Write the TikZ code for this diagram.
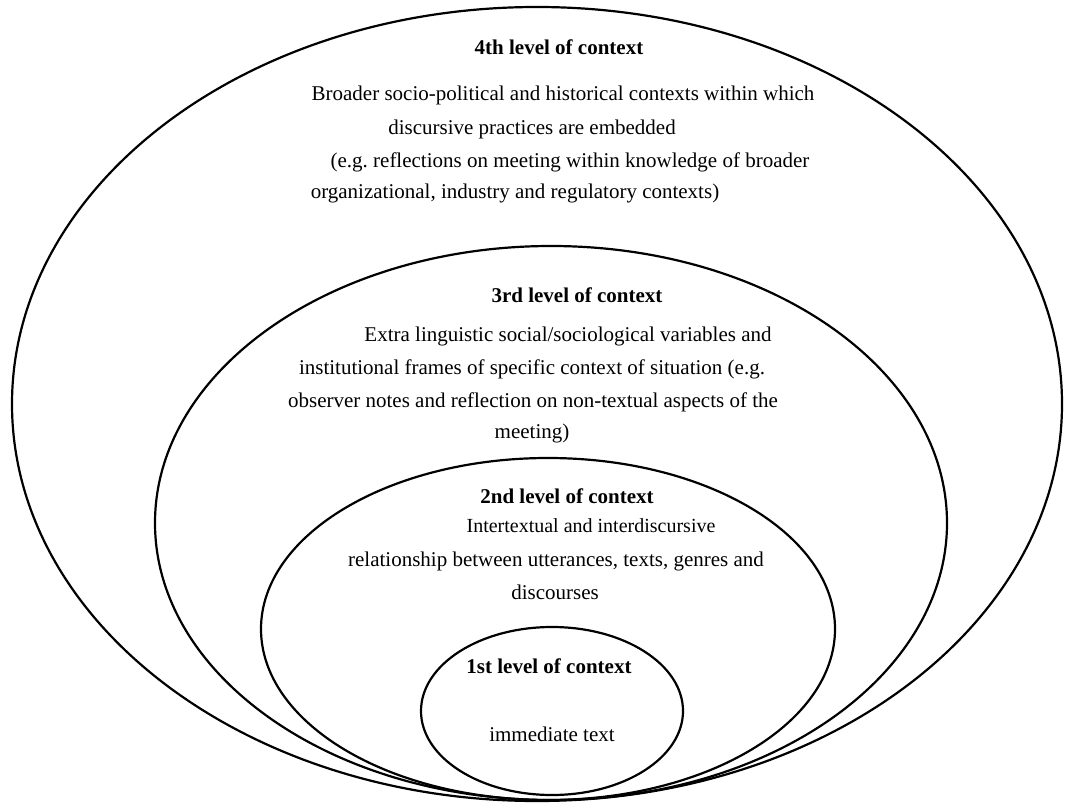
\documentclass[tikz,border=0pt]{standalone}
\usepackage{fontspec}
\setmainfont{Liberation Serif}
\usetikzlibrary{shapes.geometric}
\frenchspacing

\begin{document}
\begin{tikzpicture}[x=1pt, y=-1pt,
      ring/.style={draw=black, line width=2.2pt, ellipse, inner sep=0pt},
      head/.style={anchor=base, inner sep=0pt, font=\fontsize{21}{25}\selectfont\bfseries},
      txt/.style={anchor=base, inner sep=0pt, font=\fontsize{21}{25}\selectfont}]
    \useasboundingbox (0,0) rectangle (1065,805);
    % nested levels of context
    \node[ring, minimum width=1050pt, minimum height=794pt] (lvl4) at (537,404) {};
    \node[ring, minimum width=792pt, minimum height=554pt]  (lvl3) at (551,523) {};
    \node[ring, minimum width=574pt, minimum height=342pt]  (lvl2) at (548,629) {};
    \node[ring, minimum width=262pt, minimum height=168pt]  (lvl1) at (552,711) {};
    % 4th level
    \node[head] (h4) at (559,55)  {4th level of context};
    \node[txt]  (t4a) at (563,101) {Broader socio-political and historical contexts within which};
    \node[txt]  (t4b) at (532,135) {discursive practices are embedded};
    \node[txt]  (t4c) at (570,168) {(e.g. reflections on meeting within knowledge of broader};
    \node[txt]  (t4d) at (515,199) {organizational, industry and regulatory contexts)};
    % 3rd level
    \node[head] (h3) at (577,302) {3rd level of context};
    \node[txt]  (t3a) at (568,341) {Extra linguistic social/sociological variables and};
    \node[txt]  (t3b) at (532,374) {institutional frames of specific context of situation (e.g.};
    \node[txt]  (t3c) at (533,407) {observer notes and reflection on non-textual aspects of the};
    \node[txt]  (t3d) at (532,438) {meeting)};
    % 2nd level
    \node[head] (h2) at (567,503) {2nd level of context};
    \node[txt, font=\fontsize{20}{24}\selectfont]  (t2a) at (591,532) {Intertextual and interdiscursive};
    \node[txt]  (t2b) at (556,566) {relationship between utterances, texts, genres and};
    \node[txt]  (t2c) at (555,599) {discourses};
    % 1st level
    \node[head] (h1) at (549,673) {1st level of context};
    \node[txt]  (t1a) at (552,741) {immediate text};
  \end{tikzpicture}
\end{document}
